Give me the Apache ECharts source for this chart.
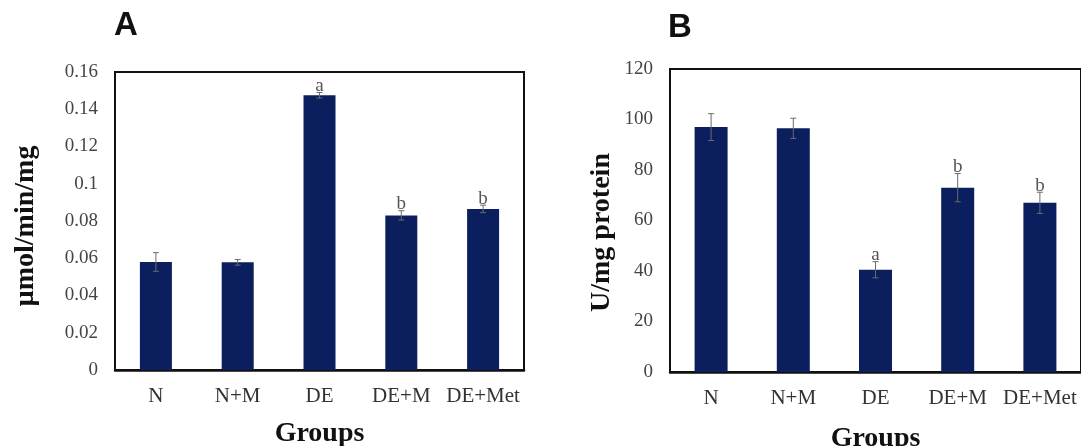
<!DOCTYPE html>
<html>
<head>
<meta charset="utf-8">
<script src="https://cdn.jsdelivr.net/npm/echarts@6/dist/echarts.min.js"></script>
<style>
  html, body { margin: 0; padding: 0; background: #fff; }
  #chart { width: 1081px; height: 446px; }
</style>
</head>
<body>
<div id="chart"></div>
<script>
// groups shared by both panels
const groups = ['N', 'N+M', 'DE', 'DE+M', 'DE+Met'];

// panel A: µmol/min/mg
const valuesA = [0.058, 0.0578, 0.1475, 0.083, 0.0865];
const errorsA = [0.005, 0.0015, 0.0015, 0.0025, 0.002];
const lettersA = ['', '', 'a', 'b', 'b'];
const ticksA = { min: 0, max: 0.16, interval: 0.02 };

// panel B: U/mg protein
const valuesB = [97, 96.5, 40.5, 73, 67];
const errorsB = [5.3, 4, 3.2, 5.6, 4.2];
const lettersB = ['', '', 'a', 'b', 'b'];
const ticksB = { min: 0, max: 120, interval: 20 };

const serif = 'Liberation Serif';
const barColor = '#0b1f5e';

const chart = echarts.init(document.getElementById('chart'));

// error bar + significance letter, drawn from the axis scales
function errorSeries(idx, values, errors, letters) {
  return {
    type: 'custom',
    xAxisIndex: idx,
    yAxisIndex: idx,
    z: 5,
    data: values.map((v, i) => [i, v, errors[i]]),
    renderItem: (params, api) => {
      const i = api.value(0);
      const v = api.value(1);
      const e = api.value(2);
      const top = api.coord([i, v + e]);
      const bot = api.coord([i, v - e]);
      const cap = 3;
      const line = { stroke: '#6b6b6b', lineWidth: 1 };
      const children = [
        { type: 'line', shape: { x1: top[0], y1: top[1], x2: bot[0], y2: bot[1] }, style: line },
        { type: 'line', shape: { x1: top[0] - cap, y1: top[1], x2: top[0] + cap, y2: top[1] }, style: line },
        { type: 'line', shape: { x1: bot[0] - cap, y1: bot[1], x2: bot[0] + cap, y2: bot[1] }, style: line }
      ];
      const letter = letters[params.dataIndex];
      if (letter) {
        children.push({
          type: 'text',
          x: top[0],
          y: top[1] + 3,
          style: {
            text: letter,
            font: '19px ' + serif,
            fill: '#555',
            align: 'center',
            verticalAlign: 'bottom'
          }
        });
      }
      return { type: 'group', children };
    }
  };
}

function yAxisFor(idx, ticks, name, gap, shift) {
  return {
    type: 'value',
    gridIndex: idx,
    min: ticks.min,
    max: ticks.max,
    interval: ticks.interval,
    name: name,
    nameLocation: 'middle',
    nameGap: gap,
    nameTextStyle: {
      fontFamily: serif, fontWeight: 'bold', fontSize: 28, color: '#111',
      padding: [0, shift, 0, 0]
    },
    axisLine: { show: true, lineStyle: { color: '#111', width: 2 } },
    axisTick: { show: false },
    splitLine: { show: false },
    axisLabel: {
      fontFamily: serif, fontSize: 19, color: '#444', margin: 17,
      formatter: v => String(+v.toFixed(2))
    }
  };
}

function xAxisFor(idx, gap) {
  return {
    type: 'category',
    gridIndex: idx,
    data: groups,
    name: 'Groups',
    nameLocation: 'middle',
    nameGap: gap,
    nameTextStyle: { fontFamily: serif, fontWeight: 'bold', fontSize: 28, color: '#111' },
    axisLine: { show: true, lineStyle: { color: '#111', width: 2.5 } },
    axisTick: { show: false },
    axisLabel: { fontFamily: serif, fontSize: 21, color: '#333', margin: 16, interval: 0 }
  };
}

chart.setOption({
  animation: false,
  backgroundColor: '#fff',
  grid: [
    { left: 115, top: 72, width: 409, height: 298, show: true, borderColor: '#111', borderWidth: 2, outerBoundsMode: 'none' },
    { left: 670, top: 69, width: 411, height: 303, show: true, borderColor: '#111', borderWidth: 2, outerBoundsMode: 'none' }
  ],
  graphic: [
    { type: 'text', x: 126, y: 26, style: { text: 'A', font: 'bold 33px Liberation Sans', fill: '#111', align: 'center', verticalAlign: 'middle' } },
    { type: 'text', x: 680, y: 28, style: { text: 'B', font: 'bold 33px Liberation Sans', fill: '#111', align: 'center', verticalAlign: 'middle' } }
  ],
  xAxis: [xAxisFor(0, 50), xAxisFor(1, 53)],
  yAxis: [
    yAxisFor(0, ticksA, 'µmol/min/mg', 75, 10),
    yAxisFor(1, ticksB, 'U/mg protein', 54, 24)
  ],
  series: [
    { type: 'bar', xAxisIndex: 0, yAxisIndex: 0, data: valuesA, barWidth: 32, itemStyle: { color: barColor } },
    errorSeries(0, valuesA, errorsA, lettersA),
    { type: 'bar', xAxisIndex: 1, yAxisIndex: 1, data: valuesB, barWidth: 33, itemStyle: { color: barColor } },
    errorSeries(1, valuesB, errorsB, lettersB)
  ]
});
</script>
</body>
</html>
